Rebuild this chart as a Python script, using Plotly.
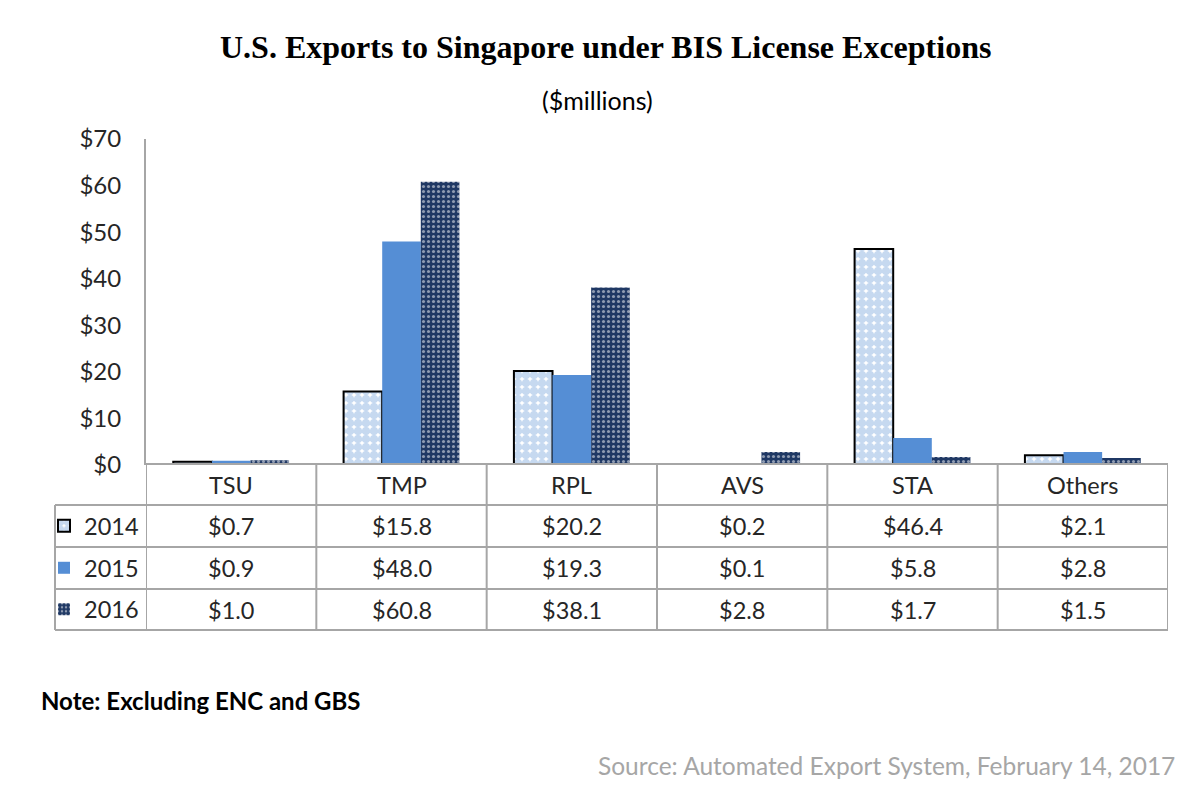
import plotly.graph_objects as go

categories = ["TSU", "TMP", "RPL", "AVS", "STA", "Others"]
years = ["2014", "2015", "2016"]
v2014 = [0.7, 15.8, 20.2, 0.2, 46.4, 2.1]
v2015 = [0.9, 48.0, 19.3, 0.1, 5.8, 2.8]
v2016 = [1.0, 60.8, 38.1, 2.8, 1.7, 1.5]
y_ticks = [0, 10, 20, 30, 40, 50, 60, 70]
y_tick_labels = ["$" + str(t) for t in y_ticks]

series = [v2014, v2015, v2016]

W, H = 1191, 794
L, R, T, B = 146, 23, 139, 329
pw, ph = W - L - R, H - T - B

def py(p):  # pixel y -> paper y
    return (H - B - p) / ph

def px(p):  # pixel x -> paper x
    return (p - L) / pw

fig = go.Figure()
styles = [
    dict(color="white", line=dict(color="black", width=2),
         pattern=dict(shape=".", bgcolor="white", fgcolor="#8DB4E2", size=8, solidity=0.8, fillmode="overlay")),
    dict(color="#558ED5", line=dict(width=0)),
    dict(color="#1F3864", line=dict(width=0),
         pattern=dict(shape=".", bgcolor="#1F3864", fgcolor="white", size=5, solidity=0.3, fillmode="overlay")),
]
legends = ["legend", "legend2", "legend3"]
for yr, vals, st, lg in zip(years, series, styles, legends):
    fig.add_trace(go.Bar(x=categories, y=vals, name=yr, marker=st, legend=lg, showlegend=True))

font_main = "Lato, 'Open Sans', sans-serif"
txt_col = "#262626"
grid_col = "#A6A6A6"
tsize = 23.5

shapes = []
annotations = []
row_edges = [464, 505, 547, 589, 630]
shapes.append(dict(type="line", xref="x", yref="paper", x0=-0.5, x1=len(categories) - 0.5,
                   y0=py(row_edges[0]), y1=py(row_edges[0]), line=dict(color=grid_col, width=2)))
for e in row_edges[1:]:
    shapes.append(dict(type="line", xref="paper", yref="paper", x0=px(55), x1=1,
                       y0=py(e), y1=py(e), line=dict(color=grid_col, width=2)))
for i in range(len(categories) + 1):
    shapes.append(dict(type="line", xref="x", yref="paper", x0=i - 0.5, x1=i - 0.5,
                       y0=py(row_edges[0]), y1=py(row_edges[-1]), line=dict(color=grid_col, width=2)))
shapes.append(dict(type="line", xref="paper", yref="paper", x0=px(55), x1=px(55),
                   y0=py(row_edges[1]), y1=py(row_edges[-1]), line=dict(color=grid_col, width=2)))

hc = (row_edges[0] + row_edges[1]) / 2
for c in categories:
    annotations.append(dict(x=c, y=py(hc), xref="x", yref="paper", text=c, showarrow=False,
                            font=dict(family=font_main, size=tsize, color=txt_col), yanchor="middle"))
for r, vals in enumerate(series):
    yc = (row_edges[r + 1] + row_edges[r + 2]) / 2
    for c, v in zip(categories, vals):
        annotations.append(dict(x=c, y=py(yc), xref="x", yref="paper", text="$%.1f" % v, showarrow=False,
                                font=dict(family=font_main, size=tsize, color=txt_col), yanchor="middle"))

annotations.append(dict(x=px(605), y=py(47), xref="paper", yref="paper", showarrow=False,
                        text="<b>U.S. Exports to Singapore under BIS License Exceptions</b>",
                        font=dict(family="'Liberation Serif', 'Times New Roman', serif", size=32, color="black"),
                        yanchor="middle", xanchor="center"))
annotations.append(dict(x=px(597), y=py(100), xref="paper", yref="paper", showarrow=False,
                        text="($millions)", font=dict(family=font_main, size=25, color="black"),
                        yanchor="middle", xanchor="center"))
annotations.append(dict(x=px(39), y=py(700), xref="paper", yref="paper", showarrow=False,
                        text="<b>Note: Excluding ENC and GBS</b>", font=dict(family=font_main, size=24, color="black"),
                        yanchor="middle", xanchor="left"))
annotations.append(dict(x=px(1177), y=py(765), xref="paper", yref="paper", showarrow=False,
                        text="Source: Automated Export System, February 14, 2017",
                        font=dict(family=font_main, size=24.5, color="#A6A6A6"),
                        yanchor="middle", xanchor="right"))

legend_layout = {}
for r, lg in enumerate(legends):
    yc = (row_edges[r + 1] + row_edges[r + 2]) / 2
    legend_layout[lg] = dict(x=px(44), y=py(yc), xref="paper", yref="paper", xanchor="left", yanchor="middle",
                             font=dict(family=font_main, size=tsize, color=txt_col), bgcolor="rgba(0,0,0,0)",
                             borderwidth=0, itemwidth=30)

fig.update_layout(
    width=W, height=H,
    margin=dict(l=L, r=R, t=T, b=B),
    paper_bgcolor="white", plot_bgcolor="white",
    barmode="group", bargap=0.32, bargroupgap=0,
    xaxis=dict(showticklabels=False, showline=False, showgrid=False, zeroline=False, ticks="",
               range=[-0.5, len(categories) - 0.5]),
    yaxis=dict(range=[0, 70], tickvals=y_ticks, ticktext=y_tick_labels, showgrid=False, zeroline=False,
               showline=True, linecolor=grid_col, linewidth=2, ticks="", ticklabelstandoff=18,
               tickfont=dict(family=font_main, size=24, color=txt_col)),
    shapes=shapes, annotations=annotations,
    **legend_layout,
)

fig.write_html("out.html", config={"displayModeBar": False},
               post_script="document.body.style.margin='0';")
